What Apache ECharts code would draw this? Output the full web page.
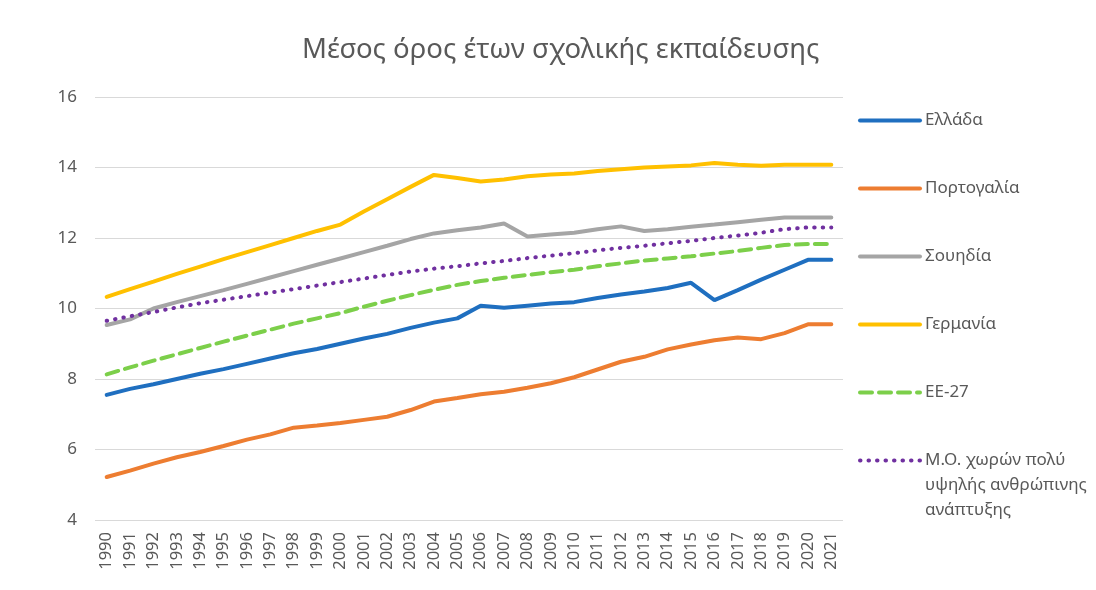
<!DOCTYPE html>
<html>
<head>
<meta charset="utf-8">
<script src="https://cdn.jsdelivr.net/npm/echarts@6/dist/echarts.min.js"></script>
<style>
  html, body { margin: 0; padding: 0; background: #fff; }
  #main { width: 1096px; height: 590px; }
</style>
</head>
<body>
<div id="main"></div>
<script>
    // δεδομένα
    var years = ['1990','1991','1992','1993','1994','1995','1996','1997','1998','1999',
        '2000','2001','2002','2003','2004','2005','2006','2007','2008','2009',
        '2010','2011','2012','2013','2014','2015','2016','2017','2018','2019','2020','2021'];

    var greece = [7.55,7.72,7.85,8.0,8.15,8.28,8.43,8.58,8.73,8.85,
        9.0,9.15,9.28,9.45,9.6,9.72,10.08,10.02,10.08,10.14,
        10.18,10.3,10.4,10.48,10.58,10.73,10.24,10.52,10.82,11.1,11.38,11.38];
    var portugal = [5.22,5.4,5.6,5.78,5.93,6.1,6.28,6.43,6.62,6.68,
        6.75,6.84,6.93,7.12,7.36,7.46,7.57,7.64,7.75,7.88,
        8.05,8.27,8.49,8.63,8.84,8.98,9.1,9.18,9.13,9.3,9.55,9.55];
    var sweden = [9.53,9.69,10.0,10.18,10.35,10.52,10.7,10.88,11.06,11.24,
        11.42,11.6,11.78,11.97,12.13,12.22,12.3,12.41,12.04,12.1,
        12.15,12.25,12.33,12.2,12.25,12.32,12.38,12.45,12.52,12.58,12.58,12.58];
    var germany = [10.33,10.55,10.76,10.98,11.19,11.4,11.6,11.8,12.0,12.2,
        12.38,12.75,13.1,13.45,13.79,13.7,13.6,13.66,13.75,13.8,
        13.83,13.9,13.95,14.0,14.03,14.06,14.13,14.08,14.05,14.08,14.08,14.08];
    var eu27 = [8.13,8.33,8.52,8.7,8.88,9.06,9.23,9.4,9.57,9.72,
        9.87,10.05,10.22,10.38,10.53,10.67,10.78,10.87,10.95,11.03,
        11.1,11.2,11.28,11.36,11.42,11.48,11.56,11.63,11.72,11.8,11.83,11.83];
    var veryHighHdi = [9.65,9.78,9.9,10.03,10.15,10.25,10.35,10.45,10.55,10.65,
        10.75,10.85,10.95,11.05,11.13,11.2,11.28,11.35,11.43,11.5,
        11.57,11.65,11.72,11.78,11.85,11.92,12.0,12.07,12.15,12.25,12.3,12.3];

    var lastName = 'Μ.Ο. χωρών πολύ υψηλής ανθρώπινης ανάπτυξης';

    var myChart = echarts.init(document.getElementById('main'));

    function line(name, data, color, type) {
        return {
            name: name,
            type: 'line',
            data: data,
            symbol: 'none',
            lineStyle: { color: color, width: 4, type: type || 'solid', cap: 'round' },
            itemStyle: { color: color }
        };
    }

    var legendBase = {
        orient: 'vertical',
        left: 858,
        padding: 0,
        itemWidth: 60,
        itemHeight: 14,
        itemGap: 43,
        itemStyle: { opacity: 0 },
        lineStyle: { width: 4 },
        textStyle: { fontSize: 17, color: '#595959', lineHeight: 25 }
    };

    var option = {
        textStyle: { fontFamily: 'Noto Sans' },
        title: {
            text: 'Μέσος όρος έτων σχολικής εκπαίδευσης',
            left: 297,
            top: 31,
            textStyle: { fontSize: 27.5, fontWeight: 'normal', color: '#595959', fontFamily: 'Noto Sans' }
        },
        legend: [
            Object.assign({}, legendBase, {
                top: 108,
                data: ['Ελλάδα', 'Πορτογαλία', 'Σουηδία', 'Γερμανία', 'ΕΕ-27']
            }),
            Object.assign({}, legendBase, {
                top: 398,
                data: [lastName],
                // δύο κενές γραμμές πριν, ώστε το σύμβολο να μένει στην πρώτη γραμμή
                formatter: function () {
                    return '\n\nΜ.Ο. χωρών πολύ\nυψηλής ανθρώπινης\nανάπτυξης';
                }
            })
        ],
        grid: { left: 95, right: 253, top: 97, bottom: 70 },
        xAxis: {
            type: 'category',
            data: years,
            boundaryGap: true,
            axisLine: { show: false },
            axisTick: { show: false },
            axisLabel: { rotate: 90, fontSize: 16.5, color: '#595959', margin: 12, interval: 0 }
        },
        yAxis: {
            type: 'value',
            min: 4,
            max: 16,
            interval: 2,
            axisLine: { show: false },
            axisTick: { show: false },
            axisLabel: { fontSize: 17, color: '#595959', margin: 18 },
            splitLine: { lineStyle: { color: '#d9d9d9', width: 1 } }
        },
        series: [
            line('Ελλάδα', greece, '#1f6fc0'),
            line('Πορτογαλία', portugal, '#ed7d31'),
            line('Σουηδία', sweden, '#a5a5a5'),
            line('Γερμανία', germany, '#ffc000'),
            line('ΕΕ-27', eu27, '#7ccf4a', [12, 7]),
            line(lastName, veryHighHdi, '#7030a0', [0.5, 8])
        ]
    };

    myChart.setOption(option);
</script>
</body>
</html>
